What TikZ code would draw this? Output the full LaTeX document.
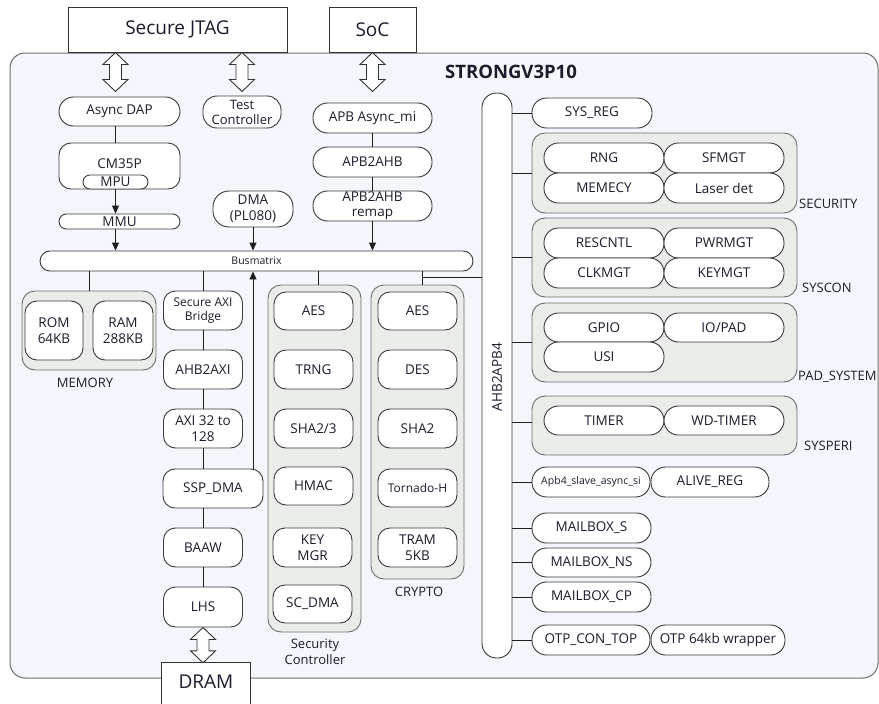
\documentclass[tikz,border=0pt]{standalone}
\usepackage{fontspec}
\setmainfont{Open Sans}
\usetikzlibrary{calc,arrows.meta}
\definecolor{outerfill}{HTML}{F3F6FA}
\definecolor{grpf}{HTML}{E9ECE8}
\definecolor{grpb}{HTML}{6E6E6E}
\definecolor{nodeb}{HTML}{3A3A3A}
\definecolor{extb}{HTML}{333333}
\definecolor{lineb}{HTML}{1E1E1E}
\definecolor{txtc}{HTML}{1C1C2C}
\newcommand{\hollowarrow}[2]{%
  \draw[harrow] let \p1=#1, \p2=#2 in
  (\x1,\y1) -- (\x1+12.5pt,\y1-12pt) -- (\x1+6pt,\y1-12pt) -- (\x1+6pt,\y2+12pt)
  -- (\x1+12.5pt,\y2+12pt) -- (\x1,\y2) -- (\x1-12.5pt,\y2+12pt) -- (\x1-6pt,\y2+12pt)
  -- (\x1-6pt,\y1-12pt) -- (\x1-12.5pt,\y1-12pt) -- cycle;}
\begin{document}
\begin{tikzpicture}[x=1pt,y=-1pt,
  every node/.style={font=\fontsize{13.5}{16}\selectfont, text=txtc},
  pill/.style={draw=nodeb, fill=white, line width=0.9pt, rounded corners=14.5pt, inner sep=0pt, minimum height=30pt, align=center},
  blk/.style={draw=nodeb, fill=white, line width=0.9pt, rounded corners=12pt, inner sep=0pt, minimum width=79pt, minimum height=39pt, align=center},
  grp/.style={draw=grpb, fill=grpf, line width=0.9pt, rounded corners=13pt, inner sep=0pt},
  ext/.style={draw=extb, fill=white, line width=1pt, inner sep=0pt, font=\fontsize{19}{22}\selectfont},
  lbl/.style={inner sep=0pt, align=center, font=\fontsize{13}{16}\selectfont},
  conn/.style={draw=lineb, line width=0.9pt},
  arr/.style={conn, -{Triangle[length=8pt,width=7pt]}},
  harrow/.style={draw=extb, fill=white, line width=0.9pt, line join=miter},
]
\useasboundingbox (0,0) rectangle (879,704);
% chip outline
\node[draw=grpb, fill=outerfill, line width=1pt, rounded corners=15pt, minimum width=868pt, minimum height=625pt, inner sep=0pt] (chip) at (444,365.5) {};
\node[font=\bfseries\fontsize{18.5}{22}\selectfont] (title) at (511,72) {STRONGV3P10};
% external blocks
\node[ext, minimum width=219pt, minimum height=45pt] (jtag) at (177.5,29.5) {Secure JTAG};
\node[ext, minimum width=87pt, minimum height=45pt] (soc) at (372.5,29.5) {SoC};
\node[inner sep=0pt, minimum width=88pt, minimum height=38pt, font=\fontsize{19}{22}\selectfont] (dram) at (206,682) {DRAM};
\fill[white] (dram.north west) rectangle ([yshift=-20pt]dram.south east);
\draw[extb, line width=1pt] ([yshift=-20pt]dram.south west) -- (dram.north west) -- (dram.north east) -- ([yshift=-20pt]dram.south east);
\node[inner sep=0pt, font=\fontsize{19}{22}\selectfont] at (dram) {DRAM};
% left column
\node[pill, minimum width=121pt, minimum height=29pt] (dap) at (119.5,111.5) {Async DAP};
\node[pill, minimum width=78pt, minimum height=32pt, rounded corners=14pt, font=\fontsize{13}{16}\selectfont] (testc) at (242,112) {Test\\[-1pt]Controller};
\node[pill, minimum width=119pt] (apbasync) at (372.5,118) {APB Async\_mi};
\node[blk, minimum width=121pt, minimum height=46pt] (cm35p) at (119.5,166) {};
\node[inner sep=0pt] (cmtxt) at (119.5,164) {CM35P};
\node[pill, minimum width=65pt, minimum height=14pt, rounded corners=7pt] (mpu) at (115.5,182) {MPU};
\node[pill, minimum width=121pt, minimum height=15pt, rounded corners=7.5pt] (mmu) at (119.5,221.5) {MMU};
\node[pill, minimum width=80pt, minimum height=36pt, rounded corners=16pt, font=\fontsize{13.5}{16}\selectfont] (dma) at (253,209) {DMA\\(PL080)};
\node[pill, minimum width=119pt] (apb2ahb) at (372.5,162) {APB2AHB};
\node[pill, minimum width=119pt, font=\fontsize{13.5}{15}\selectfont] (remap) at (372.5,206) {APB2AHB\\remap};
\node[pill, minimum width=433pt, minimum height=20pt, rounded corners=10pt, font=\fontsize{10.5}{12}\selectfont] (bus) at (256.5,261) {Busmatrix};
% memory
\node[grp, minimum width=134pt, minimum height=79pt] (memgrp) at (89,330.5) {};
\node[blk, minimum width=58pt, minimum height=59pt] (rom) at (54,330.5) {ROM\\64KB};
\node[blk, minimum width=60pt, minimum height=59pt] (ram) at (123,330.5) {RAM\\288KB};
\node[lbl] (memlbl) at (85,383) {MEMORY};
% AXI chain
\node[blk, font=\fontsize{12}{14}\selectfont] (secaxi) at (203,310.5) {Secure AXI\\Bridge};
\node[blk] (ahb2axi) at (203,369.5) {AHB2AXI};
\node[blk] (axi) at (203,428.5) {AXI 32 to\\128};
\node[blk, minimum width=100pt] (sspdma) at (213,488.5) {SSP\_DMA};
\node[blk] (baaw) at (203,547.5) {BAAW};
\node[blk, minimum height=40pt] (lhs) at (203,607) {LHS};
% security controller
\node[grp, minimum width=93pt, minimum height=347pt] (secgrp) at (314.5,458.5) {};
\node[blk, minimum height=38pt] (scaes) at (313.5,311) {AES};
\node[blk] (sctrng) at (313.5,369.5) {TRNG};
\node[blk] (scsha) at (313.5,428.5) {SHA2/3};
\node[blk, minimum height=38pt] (schmac) at (313.5,486) {HMAC};
\node[blk] (sckey) at (312.5,547.5) {KEY\\MGR};
\node[blk, minimum height=38pt] (scdma) at (312.5,604) {SC\_DMA};
\node[lbl] (seclbl) at (315,651.5) {Security\\Controller};
% crypto
\node[grp, minimum width=93pt, minimum height=294pt] (crgrp) at (417.5,432) {};
\node[blk, minimum height=38pt] (craes) at (417.5,311) {AES};
\node[blk] (crdes) at (417.5,369.5) {DES};
\node[blk] (crsha) at (417.5,428.5) {SHA2};
\node[blk, minimum height=38pt, font=\fontsize{12}{14}\selectfont] (crtor) at (417.5,488) {Tornado-H};
\node[blk] (crtram) at (417.5,547.5) {TRAM\\5KB};
\node[lbl] (crlbl) at (419,592) {CRYPTO};
% AHB2APB4 bar
\node[pill, minimum width=30pt, minimum height=565pt, rounded corners=14.5pt] (bar) at (497,375.5) {};
\node[rotate=90, inner sep=0pt] (bartxt) at (497,377) {AHB2APB4};
% right side
\node[pill, minimum width=120pt] (sysreg) at (592,113) {SYS\_REG};
\node[grp, minimum width=265pt, minimum height=80pt] (secur) at (664.5,173) {};
\node[pill, minimum width=120pt] (rng) at (604,158) {RNG};
\node[pill, minimum width=120pt] (sfmgt) at (724,158) {SFMGT};
\node[pill, minimum width=120pt] (memecy) at (604,188) {MEMECY};
\node[pill, minimum width=120pt] (laser) at (724,188) {Laser det};
\node[lbl, anchor=west] (securlbl) at (799,204) {SECURITY};
\node[grp, minimum width=265pt, minimum height=79pt] (syscon) at (664.5,257.5) {};
\node[pill, minimum width=120pt] (rescntl) at (604,243) {RESCNTL};
\node[pill, minimum width=120pt] (pwrmgt) at (724,243) {PWRMGT};
\node[pill, minimum width=120pt] (clkmgt) at (604,273) {CLKMGT};
\node[pill, minimum width=120pt] (keymgt) at (724,273) {KEYMGT};
\node[lbl, anchor=west] (sysconlbl) at (802,288) {SYSCON};
\node[grp, minimum width=265pt, minimum height=79pt] (pad) at (664.5,342.5) {};
\node[pill, minimum width=120pt, minimum height=29pt] (gpio) at (604,327.5) {GPIO};
\node[pill, minimum width=120pt, minimum height=29pt] (iopad) at (724,327.5) {IO/PAD};
\node[pill, minimum width=120pt, minimum height=30pt] (usi) at (604,357) {USI};
\node[lbl, anchor=west] (padlbl) at (798,377) {PAD\_SYSTEM};
\node[grp, minimum width=265pt, minimum height=59pt] (sysperi) at (664.5,425.5) {};
\node[pill, minimum width=120pt, minimum height=29pt] (timer) at (604,420.5) {TIMER};
\node[pill, minimum width=120pt, minimum height=29pt] (wdt) at (724,420.5) {WD-TIMER};
\node[lbl, anchor=west] (sysperilbl) at (804,446) {SYSPERI};
\node[pill, minimum width=118pt, font=\fontsize{10.5}{12}\selectfont] (apb4) at (591,482) {Apb4\_slave\_async\_si};
\node[pill, minimum width=118pt] (alive) at (710,482) {ALIVE\_REG};
\node[pill, minimum width=119pt] (mbs) at (591.5,528) {MAILBOX\_S};
\node[pill, minimum width=119pt, minimum height=29pt] (mbns) at (591.5,562.5) {MAILBOX\_NS};
\node[pill, minimum width=119pt] (mbcp) at (591.5,597) {MAILBOX\_CP};
\node[pill, minimum width=118pt] (otpcon) at (591,640) {OTP\_CON\_TOP};
\node[pill, minimum width=134pt] (otpw) at (718,640) {OTP 64kb wrapper};
% hollow double arrows
\hollowarrow{(mpu |- jtag.south)}{($(mpu |- jtag.south)+(0,39)$)}
\hollowarrow{(testc |- jtag.south)}{($(testc |- jtag.south)+(0,39)$)}
\hollowarrow{(soc.south)}{($(soc.south)+(0,39)$)}
\hollowarrow{(lhs.south)}{(lhs.south |- dram.north)}
% connectors
\draw[conn] (mpu |- dap.south) -- (mpu |- cm35p.north);
\draw[arr] (mpu.south) -- (mpu |- mmu.north);
\draw[arr] (mpu |- mmu.south) -- (mpu |- bus.north);
\draw[conn] (apbasync.south) -- (apb2ahb.north);
\draw[conn] (apb2ahb.south) -- (remap.north);
\draw[arr] (remap.south) -- (remap.south |- bus.north);
\draw[arr] (dma.south) -- (dma.south |- bus.north);
\draw[conn] (memgrp.north |- bus.south) -- (memgrp.north);
\draw[conn] (secaxi.north |- bus.south) -- (secaxi.north);
\draw[conn] (secaxi.south) -- (ahb2axi.north);
\draw[conn] (ahb2axi.south) -- (axi.north);
\draw[conn] (axi.south) -- (axi.south |- sspdma.north);
\draw[conn] (baaw.north |- sspdma.south) -- (baaw.north);
\draw[conn] (baaw.south) -- (lhs.north);
\draw[arr] (dma |- sspdma.north) -- (dma |- bus.south);
\coordinate (secj) at ([xshift=4pt]secgrp.north);
\draw[conn] (secj |- bus.south) -- (secj);
\coordinate (crj) at (422,277);
\draw[conn] (crj |- bus.south) -- (crj |- crgrp.north);
\draw[conn] (crj) -- (crj -| bar.west);
\draw[conn] (bar.east |- sysreg.west) -- (sysreg.west);
\draw[conn] (bar.east |- secur.west) -- (secur.west);
\draw[conn] (bar.east |- syscon.west) -- (syscon.west);
\draw[conn] (bar.east |- pad.west) -- (pad.west);
\draw[conn] ([yshift=3pt]bar.east |- sysperi.west) -- ([yshift=3pt]sysperi.west);
\draw[conn] (bar.east |- apb4.west) -- (apb4.west);
\draw[conn] (bar.east |- mbs.west) -- (mbs.west);
\draw[conn] (bar.east |- mbns.west) -- (mbns.west);
\draw[conn] (bar.east |- mbcp.west) -- (mbcp.west);
\draw[conn] (bar.east |- otpcon.west) -- (otpcon.west);
\end{tikzpicture}
\end{document}
